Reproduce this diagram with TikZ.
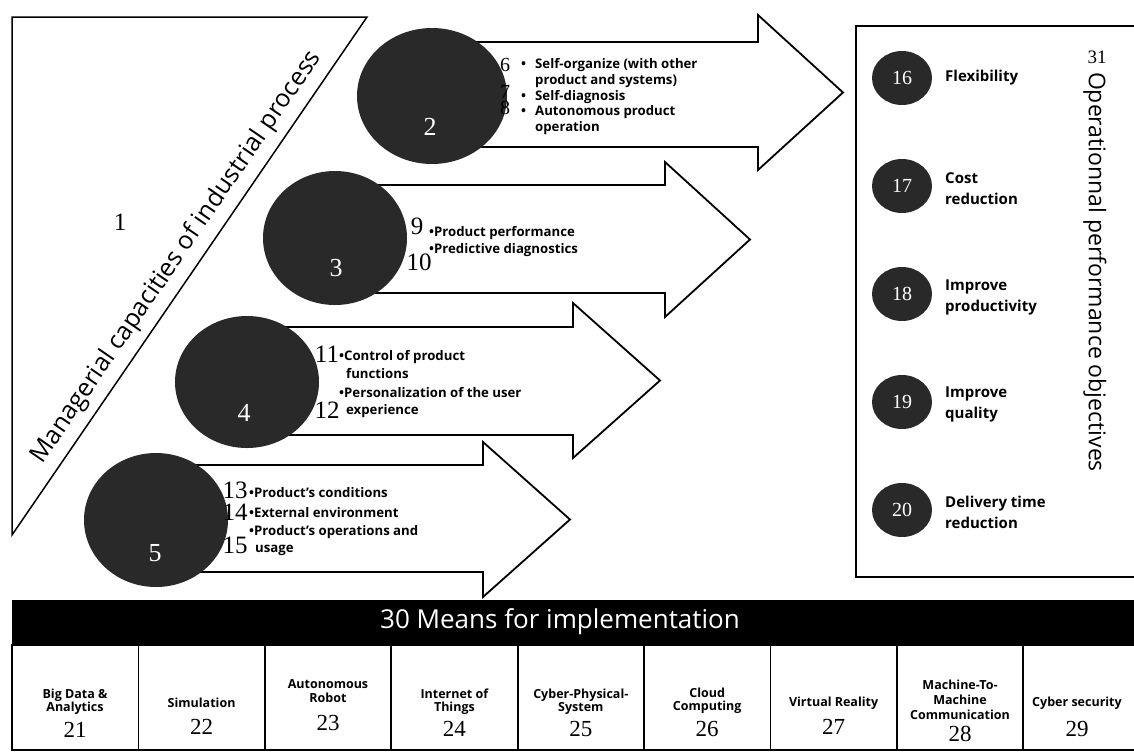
\documentclass[tikz,border=0pt]{standalone}
\usepackage{fontspec}
\setmainfont{Liberation Serif}
\setsansfont{Open Sans}
\usetikzlibrary{shapes.geometric}
\begin{document}
\begin{tikzpicture}[x=1pt,y=-1pt,
  blockarrow/.style={draw=black, line width=1.8pt, fill=white, line join=miter},
  bigdisc/.style={ellipse, fill=black!84, inner sep=0pt, minimum width=144pt, minimum height=134pt},
  smalldisc/.style={ellipse, fill=black!84, inner sep=0pt, minimum width=60pt, minimum height=54pt,
    text=white, font=\fontsize{20}{20}\selectfont},
  num/.style={font=\fontsize{25}{25}\selectfont, inner sep=0pt},
  smallnum/.style={font=\fontsize{20}{20}\selectfont, inner sep=0pt},
  wnum/.style={font=\fontsize{26}{26}\selectfont, inner sep=0pt, text=white},
  item/.style={font=\sffamily\bfseries\fontsize{13.2}{15}\selectfont, anchor=west, inner sep=0pt},
  goal/.style={font=\sffamily\bfseries\fontsize{15}{21}\selectfont, anchor=west, inner sep=0pt, align=left},
  cell/.style={draw=black, line width=1.8pt, fill=white, minimum width=126.4pt, minimum height=105pt, inner sep=0pt},
  celltext/.style={font=\sffamily\bfseries\fontsize{12.5}{13.5}\selectfont, inner sep=0pt, align=center},
  cellnum/.style={font=\fontsize{23}{23}\selectfont, inner sep=0pt},
  heading/.style={font=\sffamily\fontsize{25}{25}\selectfont, inner sep=0pt}
]
\clip (0,0) rectangle (1134,755);
\fill[white] (0,0) rectangle (1134,755);

% ---- managerial capacities triangle ----
\draw[line width=1.5pt, line join=miter] (12,17) -- (367,17) -- (12,535) -- cycle;
\node[heading, rotate=55.57, anchor=base] (mgr) at (182,261) {Managerial capacities of industrial process};
\node[num] (n1) at (120,222) {1};

% ---- block arrows ----
\draw[blockarrow] (430,42) -- (758,42) -- (758,15) -- (843,92.5) -- (758,170) -- (758,147) -- (430,147) -- cycle;
\draw[blockarrow] (335,185) -- (665,185) -- (665,162) -- (750,239.5) -- (665,317) -- (665,293) -- (335,293) -- cycle;
\draw[blockarrow] (247,327) -- (573,327) -- (573,303) -- (660,380.5) -- (573,458) -- (573,435) -- (247,435) -- cycle;
\draw[blockarrow] (156,465) -- (483,465) -- (483,442) -- (570,519.5) -- (483,597) -- (483,572) -- (156,572) -- cycle;

% ---- capability discs ----
\node[bigdisc, minimum width=150pt, minimum height=136pt] (c2) at (432,96) {};
\node[wnum] at (430,127) {2};
\node[bigdisc] (c3) at (335,238) {};
\node[wnum] at (336,268) {3};
\node[bigdisc, minimum height=132pt] (c4) at (247,382) {};
\node[wnum] at (244,413) {4};
\node[bigdisc] (c5) at (156,520) {};
\node[wnum] at (155,553) {5};

% ---- arrow 2 items ----
\node[smallnum] at (505,65) {6};
\node[item] at (521,65) {•};
\node[item] at (535,65) {Self-organize (with other};
\node[item] at (535,81) {product and systems)};
\node[smallnum] at (505,92) {7};
\node[item] at (521,97) {•};
\node[item] at (535,97) {Self-diagnosis};
\node[smallnum] at (505,108) {8};
\node[item] at (521,112) {•};
\node[item] at (535,112) {Autonomous product};
\node[item] at (535,128) {operation};

% ---- arrow 3 items ----
\node[num] at (417,226) {9};
\node[item] at (429,233) {•Product performance};
\node[num] at (419,262) {10};
\node[item] at (429,250) {•Predictive diagnostics};

% ---- arrow 4 items ----
\node[num] at (327,354) {11};
\node[item] at (339,357) {•Control of product};
\node[item] at (346,374) {functions};
\node[item] at (339,393) {•Personalization of the user};
\node[num] at (327,410) {12};
\node[item] at (346,411) {experience};

% ---- arrow 5 items ----
\node[num] at (235,490) {13};
\node[item] at (249,493) {•Product’s conditions};
\node[num] at (235,512) {14};
\node[item] at (249,513) {•External environment};
\node[item] at (249,532) {•Product’s operations and};
\node[num] at (235,545) {15};
\node[item] at (255,550) {usage};

% ---- operational performance objectives ----
\node[draw=black, line width=1.8pt, minimum width=294pt, minimum height=551pt, inner sep=0pt] (obj) at (1003,301.5) {};
\node[smallnum, font=\fontsize{19}{19}\selectfont] (n31) at (1097,57) {31};
\node[heading, font=\sffamily\fontsize{23}{23}\selectfont, rotate=-90] (objtitle) at (1095,272) {Operationnal performance objectives};
\node[smalldisc] (o16) at (902,78) {16};
\node[goal] at (945,78) {Flexibility};
\node[smalldisc] (o17) at (902,186) {17};
\node[goal] at (945,189) {Cost\\reduction};
\node[smalldisc] (o18) at (902,294) {18};
\node[goal] at (945,297) {Improve\\productivity};
\node[smalldisc] (o19) at (902,402) {19};
\node[goal] at (945,404) {Improve\\quality};
\node[smalldisc] (o20) at (902,510) {20};
\node[goal] at (945,512) {Delivery time\\reduction};

% ---- means for implementation ----
\node[fill=black, minimum width=1140pt, minimum height=45pt, inner sep=0pt, anchor=north west] (bar) at (12,600) {};
\node[heading, font=\sffamily\fontsize{26}{26}\selectfont, text=white] at (560,622) {30 Means for implementation};

\foreach \i/\nm in {0/m21,1/m22,2/m23,3/m24,4/m25,5/m26,6/m27,7/m28,8/m29}
  \node[cell] (\nm) at ({12+126.4*(\i+0.5)},697.5) {};

\node[celltext] at (75,701.5) {Big Data \&\\Analytics};
\node[cellnum] at (75,730) {21};
\node[celltext] at (201.6,703) {Simulation};
\node[cellnum] at (201.6,727) {22};
\node[celltext] at (328,691) {Autonomous\\Robot};
\node[cellnum] at (328,723) {23};
\node[celltext] at (454.4,701.5) {Internet of\\Things};
\node[cellnum] at (454.4,729) {24};
\node[celltext] at (580.8,701.5) {Cyber-Physical-\\System};
\node[cellnum] at (580.8,729) {25};
\node[celltext] at (707.2,700.5) {Cloud\\Computing};
\node[cellnum] at (707.2,729) {26};
\node[celltext] at (833.6,703) {Virtual Reality};
\node[cellnum] at (833.6,727) {27};
\node[celltext, font=\sffamily\bfseries\fontsize{12.5}{15}\selectfont] at (960,700) {Machine-To-\\Machine\\Communication};
\node[cellnum] at (960,734) {28};
\node[celltext] at (1077,703) {Cyber security};
\node[cellnum] at (1077,729) {29};
\end{tikzpicture}
\end{document}
